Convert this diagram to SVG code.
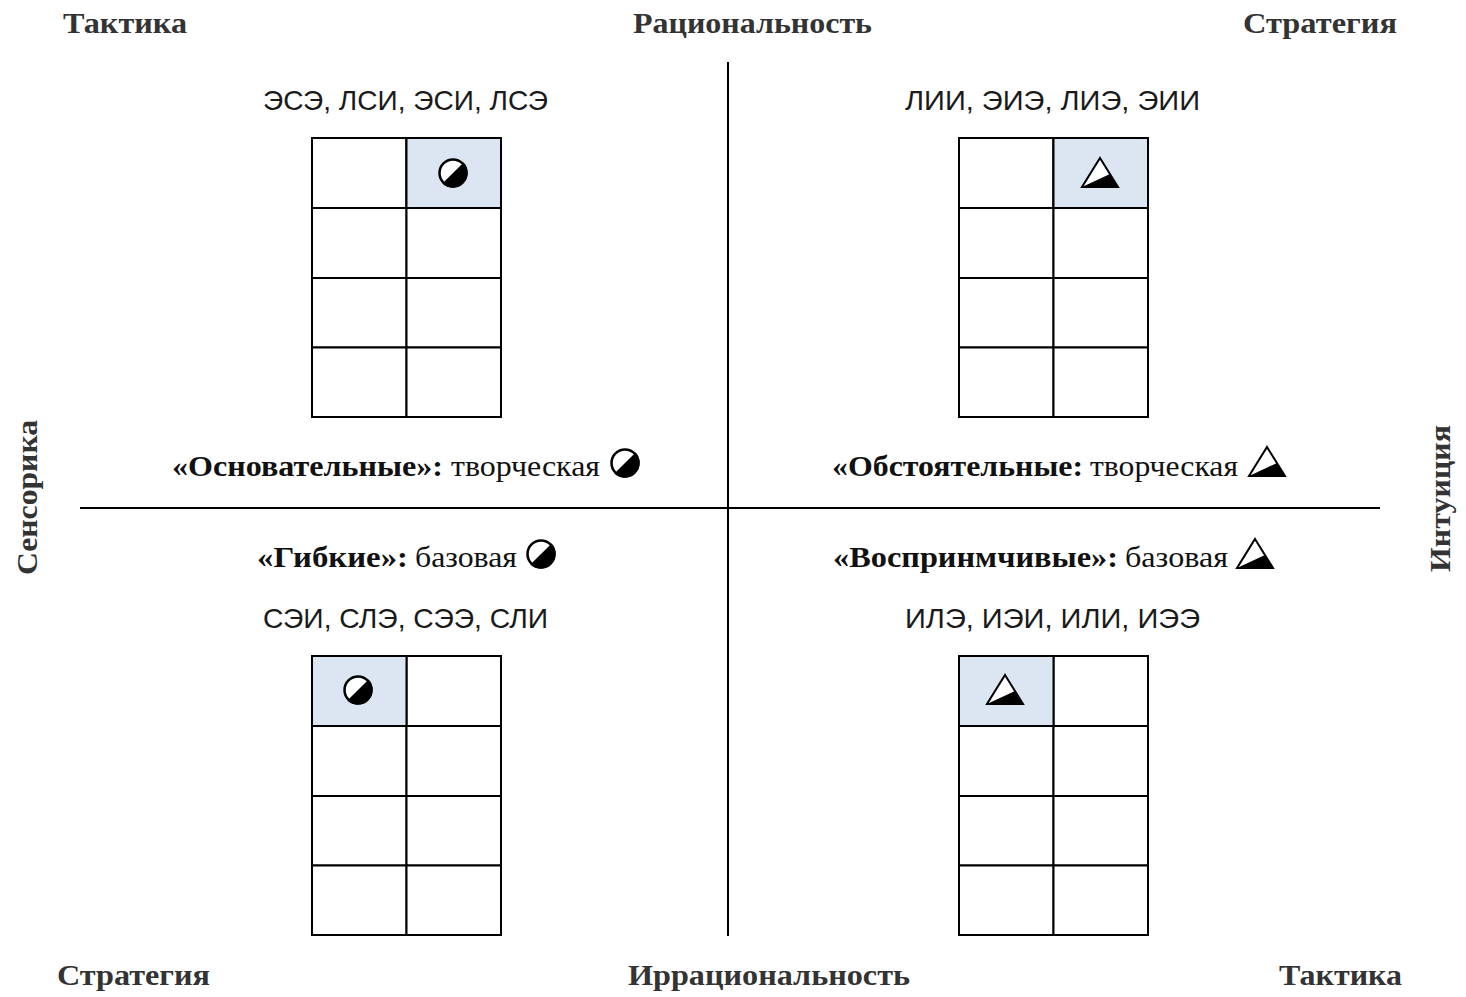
<svg xmlns="http://www.w3.org/2000/svg" width="1466" height="997" viewBox="0 0 1466 997">
<style>
.hd{font-family:"Liberation Serif","Times New Roman",serif;font-weight:bold;font-size:30px;fill:#333}
.lb{font-family:"Liberation Serif","Times New Roman",serif;font-weight:bold;font-size:29px;fill:#111}
.lr{font-family:"Liberation Serif","Times New Roman",serif;font-size:29px;fill:#111}
.ty{font-family:"Liberation Sans",Arial,sans-serif;font-size:28px;fill:#1a1a1a}
.cell{fill:#fff;stroke:#000;stroke-width:2}
.hl{fill:#dce6f2;stroke:#000;stroke-width:2}
.ax{stroke:#000;stroke-width:2;fill:none}
</style>
<defs>
<g id="circ">
<circle cx="0" cy="0" r="13.5" fill="#fff" stroke="#000" stroke-width="2.5"/>
<path d="M10.6,-10.6 A15,15 0 0 1 -10.6,10.6 Z" fill="#000"/>
</g>
<g id="tri">
<polygon points="0,-15 18,14 -18,14" fill="#fff" stroke="#000" stroke-width="2" stroke-linejoin="miter"/>
<polygon points="-18,14 18,14 10,1" fill="#000"/>
</g>
<g id="grid">
<rect class="cell" x="0" y="0" width="94.5" height="70"/>
<rect class="cell" x="94.5" y="0" width="94.5" height="70"/>
<rect class="cell" x="0" y="70" width="94.5" height="70"/>
<rect class="cell" x="94.5" y="70" width="94.5" height="70"/>
<rect class="cell" x="0" y="140" width="94.5" height="69.5"/>
<rect class="cell" x="94.5" y="140" width="94.5" height="69.5"/>
<rect class="cell" x="0" y="209.5" width="94.5" height="69.5"/>
<rect class="cell" x="94.5" y="209.5" width="94.5" height="69.5"/>
</g>
</defs>
<rect width="1466" height="997" fill="#fff"/>

<g id="axes">
<line class="ax" x1="728" y1="62" x2="728" y2="936"/>
<line class="ax" x1="80" y1="508" x2="1380" y2="508"/>
</g>

<g id="headers">
<text class="hd" x="63" y="33" textLength="124" lengthAdjust="spacingAndGlyphs">Тактика</text>
<text class="hd" x="633" y="33" textLength="239" lengthAdjust="spacingAndGlyphs">Рациональность</text>
<text class="hd" x="1243" y="33" textLength="154" lengthAdjust="spacingAndGlyphs">Стратегия</text>
<text class="hd" x="57" y="985" textLength="153" lengthAdjust="spacingAndGlyphs">Стратегия</text>
<text class="hd" x="628" y="985" textLength="282" lengthAdjust="spacingAndGlyphs">Иррациональность</text>
<text class="hd" x="1279" y="985" textLength="123" lengthAdjust="spacingAndGlyphs">Тактика</text>
<text class="hd" transform="translate(37,575) rotate(-90)" textLength="155" lengthAdjust="spacingAndGlyphs">Сенсорика</text>
<text class="hd" transform="translate(1450,572) rotate(-90)" textLength="147" lengthAdjust="spacingAndGlyphs">Интуиция</text>
</g>

<g id="q-tl">
<text class="ty" x="263" y="110" textLength="285" lengthAdjust="spacingAndGlyphs">ЭСЭ, ЛСИ, ЭСИ, ЛСЭ</text>
<use href="#grid" x="312" y="138"/>
<rect class="hl" x="406.5" y="138" width="94.5" height="70"/>
<use href="#circ" x="453" y="173"/>
<text class="lb" x="172" y="476" textLength="271" lengthAdjust="spacingAndGlyphs">«Основательные»:</text>
<text class="lr" x="451" y="476" textLength="149" lengthAdjust="spacingAndGlyphs">творческая</text>
<use href="#circ" x="625" y="463"/>
</g>

<g id="q-tr">
<text class="ty" x="905" y="110" textLength="295" lengthAdjust="spacingAndGlyphs">ЛИИ, ЭИЭ, ЛИЭ, ЭИИ</text>
<use href="#grid" x="959" y="138"/>
<rect class="hl" x="1053.5" y="138" width="94.5" height="70"/>
<use href="#tri" x="1100" y="173"/>
<text class="lb" x="832" y="476" textLength="251" lengthAdjust="spacingAndGlyphs">«Обстоятельные:</text>
<text class="lr" x="1090" y="476" textLength="148" lengthAdjust="spacingAndGlyphs">творческая</text>
<use href="#tri" x="1267" y="462"/>
</g>

<g id="q-bl">
<text class="lb" x="257" y="567" textLength="151" lengthAdjust="spacingAndGlyphs">«Гибкие»:</text>
<text class="lr" x="415" y="567" textLength="102" lengthAdjust="spacingAndGlyphs">базовая</text>
<use href="#circ" x="541" y="554"/>
<text class="ty" x="263" y="628" textLength="285" lengthAdjust="spacingAndGlyphs">СЭИ, СЛЭ, СЭЭ, СЛИ</text>
<use href="#grid" x="312" y="656"/>
<rect class="hl" x="312" y="656" width="94.5" height="70"/>
<use href="#circ" x="358" y="690"/>
</g>

<g id="q-br">
<text class="lb" x="833" y="567" textLength="285" lengthAdjust="spacingAndGlyphs">«Воспринмчивые»:</text>
<text class="lr" x="1125" y="567" textLength="103" lengthAdjust="spacingAndGlyphs">базовая</text>
<use href="#tri" x="1255" y="554"/>
<text class="ty" x="905" y="628" textLength="295" lengthAdjust="spacingAndGlyphs">ИЛЭ, ИЭИ, ИЛИ, ИЭЭ</text>
<use href="#grid" x="959" y="656"/>
<rect class="hl" x="959" y="656" width="94.5" height="70"/>
<use href="#tri" x="1005" y="690"/>
</g>
</svg>
